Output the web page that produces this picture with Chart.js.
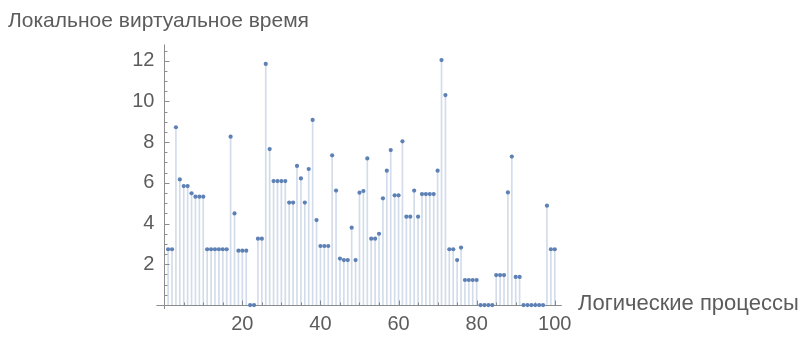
<!DOCTYPE html>
<html>
<head>
<meta charset="utf-8">
<script src="https://cdn.jsdelivr.net/npm/chart.js@4.4.1/dist/chart.umd.min.js"></script>
<style>
  html, body { margin: 0; padding: 0; background: #ffffff; }
  #wrap { width: 802px; height: 338px; position: relative; }
</style>
</head>
<body>
<div id="wrap"><canvas id="c" width="802" height="338"></canvas></div>
<script>
// ---- data ----
const processes = Array.from({ length: 100 }, (_, i) => i + 1);
const virtualTime = [
  2.74, 2.74, 8.73, 6.17, 5.84, 5.84, 5.49, 5.32, 5.32, 5.32,
  2.74, 2.74, 2.74, 2.74, 2.74, 2.74, 8.27, 4.50, 2.67, 2.67,
  2.67, 0.00, 0.00, 3.26, 3.26, 11.84, 7.66, 6.09, 6.09, 6.09,
  6.09, 5.03, 5.03, 6.83, 6.22, 5.03, 6.68, 9.09, 4.17, 2.90,
  2.90, 2.90, 7.35, 5.62, 2.28, 2.21, 2.21, 3.80, 2.21, 5.52,
  5.60, 7.20, 3.26, 3.26, 3.50, 5.24, 6.60, 7.61, 5.39, 5.39,
  8.04, 4.34, 4.34, 5.62, 4.34, 5.45, 5.45, 5.45, 5.45, 6.60,
  12.03, 10.31, 2.74, 2.74, 2.21, 2.82, 1.23, 1.23, 1.23, 1.23,
  0.00, 0.00, 0.00, 0.00, 1.47, 1.47, 1.47, 5.53, 7.29, 1.38,
  1.38, 0.00, 0.00, 0.00, 0.00, 0.00, 0.00, 4.88, 2.74, 2.74
];
const xTickLabels = [20, 40, 60, 80, 100];
const yTickLabels = [2, 4, 6, 8, 10, 12];
const xMinorStep = 5;
const yMinorStep = 0.5;
const yAxisTitle = 'Локальное виртуальное время';
const xAxisTitle = 'Логические процессы';

// ---- styling ----
const FONT = '"Liberation Sans", Arial, sans-serif';
const TEXT = '#5c5c5c';
const AXIS = '#8c8c8c';
const POINT = '#5e81b5';
const STEM = 'rgba(94,129,181,0.28)';

const X_MIN = -2, X_MAX = 101.8, Y_MIN = -0.2, Y_MAX = 12.8;

const points = processes.map((p, i) => ({ x: p, y: virtualTime[i] }));

const axesPlugin = {
  id: 'mmaAxes',
  beforeDatasetsDraw(chart) {
    const { ctx, scales: { x, y } } = chart;
    const x0 = Math.round(x.getPixelForValue(0)) + 0.5;
    const y0 = Math.round(y.getPixelForValue(0)) + 0.5;
    ctx.save();
    ctx.strokeStyle = AXIS;
    ctx.lineWidth = 1;
    ctx.beginPath();
    ctx.moveTo(x.left, y0); ctx.lineTo(x.right, y0);
    ctx.moveTo(x0, y.top); ctx.lineTo(x0, y.bottom);
    for (let v = yMinorStep; v <= Y_MAX; v += yMinorStep) {
      const major = yTickLabels.includes(v);
      const py = Math.round(y.getPixelForValue(v)) + 0.5;
      ctx.moveTo(x0, py); ctx.lineTo(x0 + (major ? 5 : 3), py);
    }
    for (let v = xMinorStep; v <= X_MAX; v += xMinorStep) {
      const major = xTickLabels.includes(v);
      const px = Math.round(x.getPixelForValue(v)) + 0.5;
      ctx.moveTo(px, y0); ctx.lineTo(px, y0 - (major ? 5 : 3));
    }
    ctx.stroke();
    ctx.restore();
  },
  afterDraw(chart) {
    const { ctx } = chart;
    ctx.save();
    ctx.fillStyle = TEXT;
    ctx.textBaseline = 'alphabetic';
    ctx.textAlign = 'left';
    ctx.font = '21px ' + FONT;
    ctx.fillText(yAxisTitle, 8, 27);
    ctx.font = '22px ' + FONT;
    ctx.fillText(xAxisTitle, 578, 310);
    ctx.restore();
  }
};

new Chart(document.getElementById('c'), {
  type: 'bar',
  data: {
    datasets: [
      {
        type: 'line',
        data: points,
        showLine: false,
        pointRadius: 2.1,
        pointHoverRadius: 2.1,
        pointBackgroundColor: POINT,
        pointBorderWidth: 0,
        order: 0
      },
      {
        type: 'bar',
        data: points,
        backgroundColor: STEM,
        borderWidth: 0,
        barThickness: 1,
        order: 1
      }
    ]
  },
  options: {
    responsive: false,
    animation: false,
    events: [],
    layout: { padding: { left: 0, top: 44.4, right: 240.2, bottom: 0 } },
    plugins: { legend: { display: false }, tooltip: { enabled: false }, title: { display: false } },
    scales: {
      x: {
        type: 'linear',
        min: X_MIN, max: X_MAX,
        offset: false,
        grid: { display: false, drawTicks: false },
        border: { display: false },
        afterBuildTicks: (s) => { s.ticks = xTickLabels.map(v => ({ value: v })); },
        afterFit: (s) => { s.height = 338 - 309.1; },
        ticks: { color: TEXT, font: { family: FONT, size: 20 }, padding: 3, maxRotation: 0, autoSkip: false }
      },
      y: {
        type: 'linear',
        min: Y_MIN, max: Y_MAX,
        grid: { display: false, drawTicks: false },
        border: { display: false },
        afterBuildTicks: (s) => { s.ticks = yTickLabels.map(v => ({ value: v })); },
        afterFit: (s) => { s.width = 156.4; },
        ticks: { color: TEXT, font: { family: FONT, size: 20 }, padding: 2 }
      }
    }
  },
  plugins: [axesPlugin]
});
</script>
</body>
</html>
